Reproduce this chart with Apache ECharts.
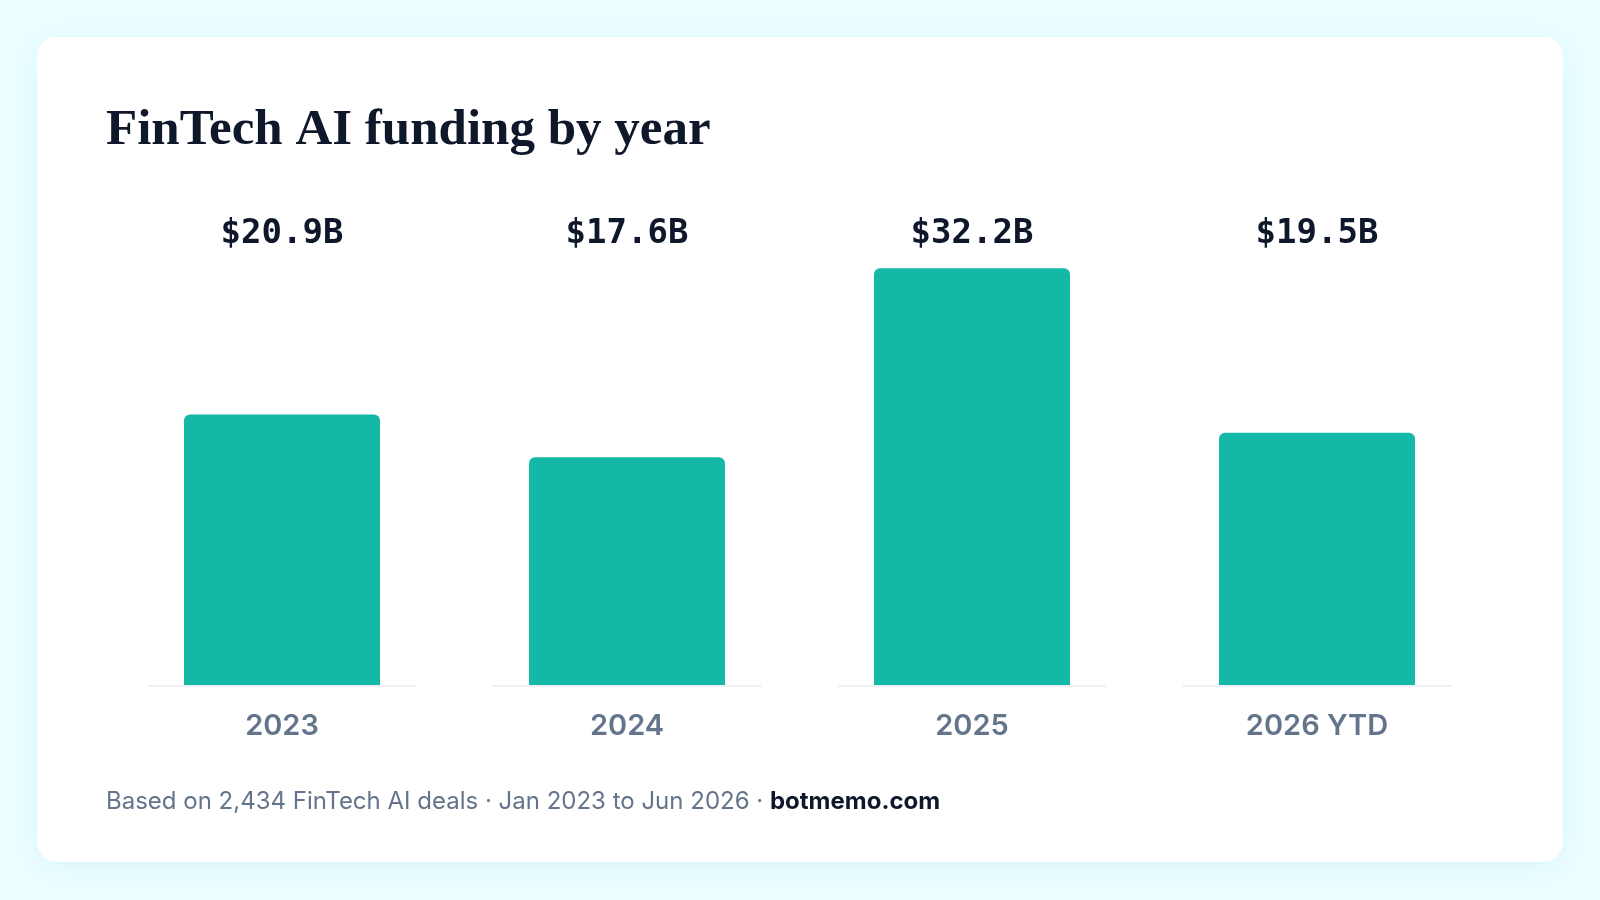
<!DOCTYPE html>
<html>
<head>
    <meta charset="utf-8" />
    <script src="https://cdn.jsdelivr.net/npm/echarts@6.0.0/dist/echarts.min.js"></script>
    <style>
        body {
            margin: 0px;
            background-color: #ecfeff;
            overflow: hidden;
        }

        #main {
            width: 1600px;
            height: 900px;
        }
    </style>
</head>

<body>
    <div id="main"></div>
</body>

<script type="text/javascript">
    var years = ['2023', '2024', '2025', '2026 YTD'];   // categories
    var funding = [20.9, 17.6, 32.2, 19.5];             // funding, $B
    var dealCount = '2,434';
    var periodText = 'Jan 2023 to Jun 2026';

    var chart = echarts.init(document.getElementById('main'));

    var option = {
        backgroundColor: '#ecfeff',
        animation: false,
        graphic: [
            {
                // white card
                type: 'rect',
                z: -10,
                shape: { x: 37, y: 37, width: 1526, height: 825, r: 20 },
                style: {
                    fill: '#ffffff',
                    shadowBlur: 30,
                    shadowColor: 'rgba(8, 145, 178, 0.08)',
                    shadowOffsetY: 4
                }
            }
        ],
        title: [
            {
                text: 'FinTech AI funding by year',
                left: 101,
                top: 100,
                textStyle: {
                    fontFamily: 'Liberation Serif',
                    fontWeight: 'bold',
                    fontSize: 51,
                    color: '#0f172a'
                }
            },
            {
                // footer
                text: '{m|Based on ' + dealCount + ' FinTech AI deals · ' + periodText + ' · }{b|botmemo.com}',
                left: 101,
                top: 785,
                textStyle: {
                    fontWeight: 'normal',
                    rich: {
                        m: { fontFamily: 'Inter', fontSize: 24, fontWeight: 'normal', color: '#64748b' },
                        b: { fontFamily: 'Inter', fontSize: 24, fontWeight: 'bold', color: '#0f172a' }
                    }
                }
            }
        ],
        grid: {
            left: 109.5,
            right: 110.5,
            top: 258,
            bottom: 215
        },
        xAxis: [
            {
                type: 'category',
                data: years,
                axisLine: { show: false },
                axisTick: { show: false },
                axisLabel: {
                    margin: 27,
                    fontFamily: 'Inter',
                    fontSize: 29,
                    fontWeight: 600,
                    color: '#64748b'
                }
            },
            {
                // value labels along the top
                type: 'category',
                position: 'top',
                data: funding.map(function (v) { return '$' + v.toFixed(1) + 'B'; }),
                axisLine: { show: false },
                axisTick: { show: false },
                axisLabel: {
                    margin: 7,
                    fontFamily: 'DejaVu Sans Mono',
                    fontSize: 34,
                    fontWeight: 'bold',
                    color: '#0f172a'
                }
            }
        ],
        yAxis: {
            type: 'value',
            min: 0,
            max: 33,
            show: false,
            splitLine: { show: false }
        },
        series: [
            {
                // baseline segment under each bar
                type: 'custom',
                z: 1,
                renderItem: function (params, api) {
                    var p = api.coord([api.value(0), 0]);
                    var w = api.size([1, 0])[0] * 0.78;
                    return {
                        type: 'rect',
                        shape: { x: p[0] - w / 2, y: p[1], width: w, height: 2 },
                        style: { fill: '#eef2f7' }
                    };
                },
                data: years.map(function (y, i) { return [i, 0]; })
            },
            {
                type: 'bar',
                z: 2,
                data: funding,
                barWidth: 196,
                itemStyle: {
                    color: '#14b8a6',
                    borderRadius: [6, 6, 0, 0]
                }
            }
        ]
    };

    chart.setOption(option);
</script>

</html>
